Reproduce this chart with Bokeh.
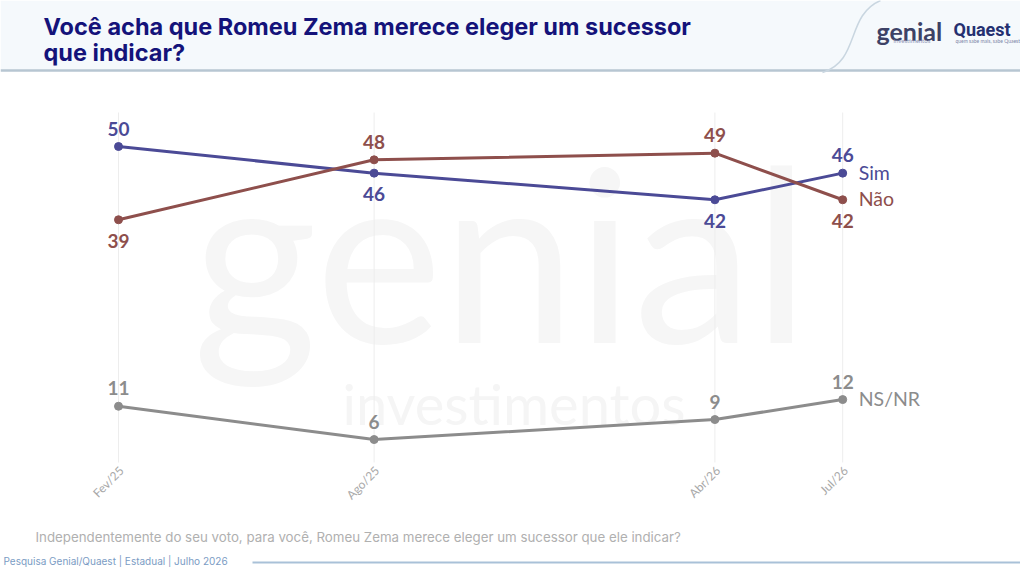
import math
from bokeh.plotting import figure
from bokeh.models import Range1d
from bokeh.core.properties import value
from bokeh.embed import file_html
from bokeh.resources import INLINE

# ---------------- data ----------------
periods = ["Fev/25", "Ago/25", "Abr/26", "Jul/26"]
month_index = [0, 6, 14, 17]          # months since Feb/2025
sim = [50, 46, 42, 46]
nao = [39, 48, 49, 42]
nsnr = [11, 6, 9, 12]
series_names = ["Sim", "Não", "NS/NR"]
title_lines = ["Você acha que Romeu Zema merece eleger um sucessor", "que indicar?"]
question = "Independentemente do seu voto, para você, Romeu Zema merece eleger um sucessor que ele indicar?"
source_note = "Pesquisa Genial/Quaest | Estadual | Julho 2026"

# ---------------- layout ----------------
W, H = 1020, 568
PX_X = 42.6      # pixels per month
PX_Y = 6.66      # pixels per percentage point
X0_PX = 118      # canvas x of first period
Y0_PX = 479      # canvas y (from top) of value 0
x_start = -X0_PX / PX_X
x_end = x_start + W / PX_X
y_end = Y0_PX / PX_Y
y_start = y_end - H / PX_Y

def cx(px):
    return x_start + px / PX_X

def cy(py):
    return y_end - py / PX_Y

C_SIM = "#4b4a96"
C_NAO = "#8e4f4c"
C_NS = "#8c8c8c"

p = figure(width=W, height=H, x_range=Range1d(x_start, x_end), y_range=Range1d(y_start, y_end),
           output_backend="svg", toolbar_location=None, min_border=0)
p.axis.visible = False
p.grid.visible = False
p.outline_line_color = None
p.background_fill_color = "white"
p.border_fill_color = "white"

# watermark
p.text(x=[cx(192)], y=[cy(249)], text=["genial"], text_font=value("Lato"),
       text_font_size="240px", text_color="#f6f6f6", text_baseline="alphabetic", text_align="left")
p.text(x=[cx(342)], y=[cy(403)], text=["investimentos"], text_font=value("Lato"),
       text_font_size="56px", text_color="#f5f5f5", text_baseline="alphabetic", text_align="left")

# header decoration
p.quad(left=[cx(0)], right=[cx(1030)], top=[cy(0)], bottom=[cy(70)], fill_color="#f5f9fc", line_color=None)
p.segment(x0=[cx(0)], x1=[cx(1030)], y0=[cy(70)], y1=[cy(70)], line_color="#b7c6d2", line_width=2.5)
p.bezier(x0=[cx(822)], y0=[cy(72)], x1=[cx(880)], y1=[cy(0)], cx0=[cx(860)], cy0=[cy(60)],
         cx1=[cx(845)], cy1=[cy(15)], line_color="#c9d6e0", line_width=1.5)
p.text(x=[cx(43)], y=[cy(26)], text=[title_lines[0]], text_font=value("Inter"), text_font_style="bold",
       text_font_size="23.5px", text_color="#14137a", text_baseline="alphabetic")
p.text(x=[cx(43)], y=[cy(52)], text=[title_lines[1]], text_font=value("Inter"), text_font_style="bold",
       text_font_size="23.5px", text_color="#14137a", text_baseline="alphabetic")
p.text(x=[cx(876)], y=[cy(30)], text=["genial"], text_font=value("Lato"), text_font_style="bold",
       text_font_size="25px", text_color="#3d4266", text_baseline="alphabetic")
p.text(x=[cx(893)], y=[cy(40)], text=["investimentos"], text_font=value("Lato"),
       text_font_size="6px", text_color="#9097b8", text_baseline="middle")
p.text(x=[cx(953)], y=[cy(29)], text=["Quaest"], text_font=value("Roboto"), text_font_style="bold",
       text_font_size="18px", text_color="#243070", text_baseline="alphabetic")
p.text(x=[cx(955)], y=[cy(40)], text=["quem sabe mais, sabe Quaest"], text_font=value("Lato"),
       text_font_size="5px", text_color="#7d86a8", text_baseline="middle")

# vertical gridlines at each period
p.segment(x0=month_index, x1=month_index, y0=[cy(112)] * 4, y1=[cy(462)] * 4,
          line_color="#ededed", line_width=1)

# tick labels
p.text(x=month_index, y=[cy(468)] * 4, text=periods, angle=math.pi / 4, text_align="right",
       text_baseline="middle", text_font=value("Lato"), text_font_size="12px", text_color="#a8a8a8",
       x_offset=3)

# series
for vals, col, name, pos in [
    (sim, C_SIM, series_names[0], ["a", "b", "b", "a"]),
    (nao, C_NAO, series_names[1], ["b", "a", "a", "b"]),
    (nsnr, C_NS, series_names[2], ["a", "a", "a", "a"]),
]:
    p.line(month_index, vals, line_color=col, line_width=3)
    p.scatter(month_index, vals, size=8, fill_color=col, line_color=col)
    offs = [-18 if s == "a" else 21 for s in pos]
    p.text(x=month_index, y=vals, text=[str(v) for v in vals], y_offset=offs, text_align="center",
           text_baseline="middle", text_font=value("Lato"), text_font_style="bold",
           text_font_size="19px", text_color=col)
    p.text(x=[month_index[-1]], y=[vals[-1]], text=[name], x_offset=16, y_offset=-1,
           text_align="left", text_baseline="middle", text_font=value("Lato"),
           text_font_size="19.5px", text_color=col)

# footer
p.text(x=[cx(35)], y=[cy(536)], text=[question], text_font=value("Inter"), text_font_size="13.3px",
       text_color="#b0b0b0", text_baseline="alphabetic")
p.text(x=[cx(3)], y=[cy(560)], text=[source_note], text_font=value("Inter"), text_font_size="10px",
       text_color="#7b9cc4", text_baseline="middle")
p.segment(x0=[cx(252)], x1=[cx(1030)], y0=[cy(562)], y1=[cy(562)], line_color="#a9c1d8", line_width=2)

open("out.html", "w").write(file_html(p, INLINE))
